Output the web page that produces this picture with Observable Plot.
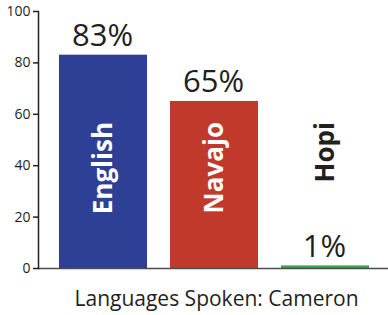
<!DOCTYPE html>
<html>
<head>
<meta charset="utf-8">
<script src="https://cdn.jsdelivr.net/npm/d3@7"></script>
<script src="https://cdn.jsdelivr.net/npm/@observablehq/plot@0.6"></script>
<style>
  html, body { margin: 0; padding: 0; background: #fff; }
  svg { display: block; }
  g[aria-label="pct"] text { letter-spacing: 1px; }
  g[aria-label="names"] text { letter-spacing: 1.5px; }
  g[aria-label="caption"] text { letter-spacing: 0.6px; }
</style>
</head>
<body>
<div id="chart"></div>
<script>
const languages = ["English", "Navajo", "Hopi"];
const percents = [83, 65, 1];
const barColors = ["#2e3f96", "#c0392a", "#3f9e4b"];
const labelColors = ["#ffffff", "#ffffff", "#231f20"];
const yTicks = [0, 20, 40, 60, 80, 100];
const caption = "Languages Spoken: Cameron";

const data = languages.map((lang, i) => ({
  lang, value: percents[i], color: barColors[i], labelColor: labelColors[i]
}));

const font = "'Open Sans', 'Noto Sans', sans-serif";

const chart = Plot.plot({
  width: 388,
  height: 315,
  marginLeft: 38,
  marginRight: 0,
  marginTop: 11,
  marginBottom: 47,
  style: { fontFamily: font, background: "#fff" },
  x: { domain: languages, range: [38, 391], paddingInner: 0.205, paddingOuter: 0.18, axis: null },
  y: { domain: [0, 100], axis: null },
  marks: [
    Plot.barY(data, { x: "lang", y: "value", fill: "color" }),
    Plot.ruleY([0], { stroke: "#4d4d4f", strokeWidth: 1.5 }),
    Plot.frame({ anchor: "left", stroke: "#231f20", strokeWidth: 1.5 }),
    Plot.axisY({ ticks: yTicks, tickSize: 5, tickPadding: 3, fontSize: 14, fill: "#231f20", stroke: "#231f20", strokeWidth: 1.5, label: null }),
    Plot.text(data, { x: "lang", y: "value", text: d => d.value + "%", dy: -9, dx: -1, lineAnchor: "bottom", fontSize: 31, fill: "#231f20", ariaLabel: "pct" }),
    Plot.text(data, { x: "lang", y: () => 57, text: "lang", rotate: -90, textAnchor: "end", fontSize: 26, fontWeight: "bold", fill: "labelColor", ariaLabel: "names" }),
    Plot.text([caption], { frameAnchor: "bottom", lineAnchor: "bottom", dy: 37, dx: 3, fontSize: 21, fill: "#231f20", ariaLabel: "caption" })
  ]
});
document.getElementById("chart").appendChild(chart);
</script>
</body>
</html>
